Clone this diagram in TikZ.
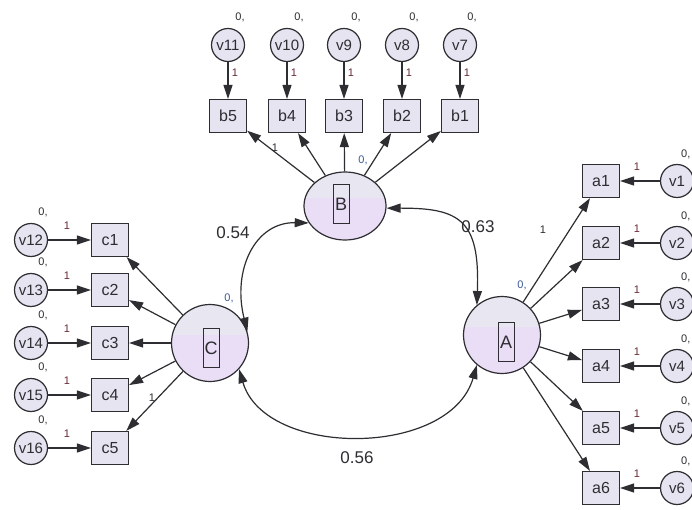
\documentclass[tikz,border=0pt]{standalone}
\usepackage{fontspec}
\setmainfont{Liberation Sans}
\usetikzlibrary{shapes.geometric,arrows.meta}
\definecolor{boxfill}{RGB}{230,228,240}
\definecolor{latup}{RGB}{232,230,240}
\definecolor{latlow}{RGB}{234,222,246}
\definecolor{ink}{RGB}{45,45,50}
\definecolor{onecol}{RGB}{105,40,50}
\definecolor{zerocol}{RGB}{60,90,150}
\begin{document}
\begin{tikzpicture}[x=1pt,y=1pt,line width=1.2pt,color=ink,
  obs/.style={draw=ink,fill=boxfill,rectangle,minimum width=37pt,minimum height=33pt,inner sep=0pt,font=\fontsize{16}{16}\selectfont},
  err/.style={draw=ink,fill=boxfill,circle,minimum size=33pt,inner sep=0pt,font=\fontsize{15}{15}\selectfont},
  lat/.style={draw=ink,circle,minimum size=77pt,inner sep=0pt,
    path picture={\fill[latup] (path picture bounding box.north west) rectangle (path picture bounding box.south east);
                  \fill[latlow] ([yshift=8pt]path picture bounding box.west) rectangle (path picture bounding box.south east);}},
  nm/.style={draw=ink,line width=1pt,rectangle,minimum width=16pt,minimum height=39pt,inner sep=0pt,font=\fontsize{18}{18}\selectfont},
  arr/.style={-{Triangle[length=14pt,width=9pt]}},
  cov/.style={{Triangle[length=14pt,width=9pt]}-{Triangle[length=14pt,width=9pt]}},
  small/.style={font=\fontsize{11}{11}\selectfont,text=ink,inner sep=0pt},
  one/.style={small,text=onecol},
  zero/.style={small,text=zerocol},
  val/.style={font=\fontsize{17}{17}\selectfont,text=ink,inner sep=0pt}]
\useasboundingbox (0,0) rectangle (692,509);
\clip (0,0) rectangle (692,509);
\fill[white] (0,0) rectangle (692,509);

% latent variables
\node[lat,ellipse,minimum width=82pt,minimum height=68pt] (B) at (345,303) {};
\node[nm] (Bn) at (341,305) {B};
\node[lat] (C) at (210,166) {};
\node[nm] (Cn) at (211,161) {C};
\node[lat] (A) at (502,174) {};
\node[nm] (An) at (506,167) {A};

% top block
\foreach \n/\x/\b in {11/228/5,10/287/4,9/344/3,8/402/2,7/460/1}{
  \node[err] (v\n) at (\x,464) {v\n};
  \node[obs] (b\b) at (\x,393) {b\b};
  \node[small] at (\x+12,492) {0,};
  \draw[arr] (v\n) -- (b\b);
  \node[one] at (\x+7,436) {1};
  \draw[arr] (B) -- (b\b);
}

% left block
\foreach \n/\i/\y in {12/1/269,13/2/219,14/3/166,15/4/114,16/5/61}{
  \node[err] (v\n) at (31,\y) {v\n};
  \node[obs] (c\i) at (110,\y) {c\i};
  \node[small] at (43,\y+28) {0,};
  \draw[arr] (v\n) -- (c\i);
  \node[one] at (67,\y+14) {1};
  \draw[arr] (C) -- (c\i);
}

% right block
\foreach \i/\y in {1/328,2/266,3/205,4/143,5/81,6/21}{
  \node[obs] (a\i) at (601,\y) {a\i};
  \node[err] (v\i) at (677,\y) {v\i};
  \node[small,anchor=east] at (691,\y+27) {0,};
  \draw[arr] (v\i) -- (a\i);
  \node[one] at (637,\y+14) {1};
  \draw[arr] (A) -- (a\i);
}

% covariances
\draw[cov] (C.17) .. controls (232,239) and (255,287) .. (B.205);
\draw[cov] (B.-3) .. controls (460,301) and (480,289) .. (A.130);
\draw[cov] (C.-42) .. controls (265,51) and (450,51) .. (A.230);

% labels
\node[val] at (233,276) {0.54};
\node[val] at (478,282) {0.63};
\node[val] at (357,51) {0.56};
\node[small] at (275,361) {1};
\node[zero] at (363,349) {0,};
\node[small] at (152,111) {1};
\node[zero] at (229,211) {0,};
\node[small] at (543,279) {1};
\node[zero] at (522,224) {0,};
\end{tikzpicture}
\end{document}
